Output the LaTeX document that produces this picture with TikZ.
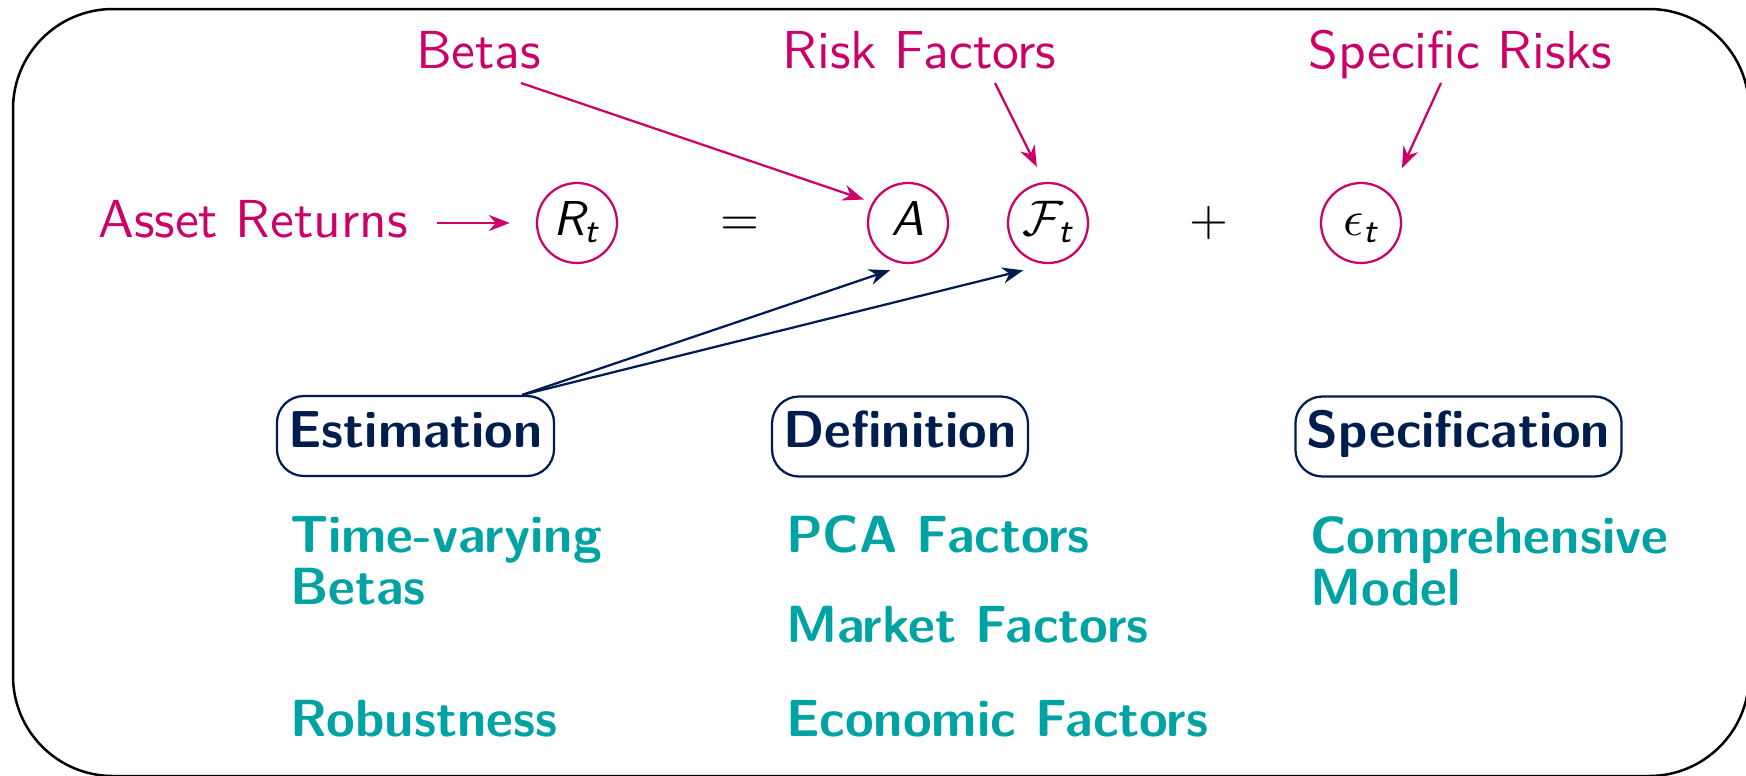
\documentclass[tikz,border=0pt]{standalone}
\usepackage{amsmath}
\usepackage{fontspec}
\usetikzlibrary{arrows.meta,calc}

\definecolor{riskpink}{RGB}{204,0,102}
\definecolor{boxnavy}{RGB}{0,30,77}
\definecolor{itemteal}{RGB}{0,163,163}

\newcommand{\sfit}[1]{\text{\sffamily\itshape #1}}

\begin{document}
\begin{tikzpicture}[x=0.2pt,y=0.2pt,yscale=-1,xscale=1,
  riskname/.style={text=riskpink,inner sep=0pt,anchor=base,font=\sffamily\fontsize{10.7}{13}\selectfont},
  factor/.style={circle,draw=riskpink,line width=0.45pt,minimum size=16pt,inner sep=0pt,text height=6.6pt,text depth=1.8pt,font=\fontsize{9.8}{11}\selectfont},
  sign/.style={inner sep=0pt,anchor=base,font=\fontsize{9.8}{11}\selectfont},
  stepname/.style={draw=boxnavy,line width=0.45pt,rounded corners=5.4pt,text=boxnavy,inner xsep=2.3pt,inner ysep=2.4pt,text height=7.8pt,text depth=3.4pt,font=\sffamily\bfseries\fontsize{10.4}{12}\selectfont},
  itemtext/.style={text=itemteal,inner sep=0pt,anchor=base west,align=left,font=\sffamily\bfseries\fontsize{10.45}{10.4}\selectfont},
  pinkarrow/.style={draw=riskpink,line width=0.45pt,-{Stealth[length=4.2pt,width=3.2pt]}},
  navyarrow/.style={draw=boxnavy,line width=0.45pt,-{Stealth[length=4.2pt,width=3.2pt]}}
]
\useasboundingbox (0,0) rectangle (1746,775);

%Shape: Rounded Rect
\draw [line width=0.5pt,rounded corners=20pt] (13,9) rectangle (1749,776) ;

%Text: names of the parts
\node [riskname] (betas) at (478.5,68) {Betas};
\node [riskname] (riskf) at (919.5,68) {Risk Factors};
\node [riskname] (specific) at (1460.5,68) {Specific Risks};
\node [riskname] (asset) at (253,237) {Asset Returns};

%Shape: Circles of the model
\node [factor] (Rt) at (577,223) {$\sfit{R}_{\sfit{t}}$};
\node [sign] (eq) at (740,235) {$=$};
\node [factor] (A) at (908,223) {$\sfit{A}$};
\node [factor] (Ft) at (1048,223) {$\mathcal{F}_{\sfit{t}}$};
\node [sign] (plus) at (1209,235) {$+$};
\node [factor] (eps) at (1361,223) {$\epsilon_{\sfit{t}}$};

%Shape: Rounded Rects of the steps
\node [stepname] (est) at (415.5,436) {Estimation};
\node [stepname] (def) at (900,436.5) {Definition};
\node [stepname] (spec) at (1458.5,436.5) {Specification};

%Text: items (base is the last line)
\node [itemtext] (tvb) at (289,604) {Time-varying\\Betas};
\node [itemtext] (rob) at (289,736) {Robustness};
\node [itemtext] (pca) at (785,552) {PCA Factors};
\node [itemtext] (mkt) at (785,642) {Market Factors};
\node [itemtext] (eco) at (785,736) {Economic Factors};
\node [itemtext] (comp) at (1309,605) {Comprehensive\\Model};

%Straight Lines: pink arrows
\draw [pinkarrow,shorten <=5.6pt,shorten >=5.2pt] (asset.east |- Rt) -- (Rt.west) ;
\coordinate (betas tail) at ($(betas.base)+(42.5,15)$);
\draw [pinkarrow,shorten >=1.8pt] (betas tail) -- (A.150) ;
\coordinate (riskf tail) at ($(riskf.base)+(75.5,15)$);
\draw [pinkarrow,shorten >=3.4pt] (riskf tail) -- (Ft.95) ;
\coordinate (specific tail) at ($(specific.base)+(-19.5,15)$);
\draw [pinkarrow,shorten >=5.7pt] (specific tail) -- (eps.45) ;

%Straight Lines: navy arrows
\coordinate (est top) at ($(est.north east)+(-33,0)$);
\draw [navyarrow,shorten >=3.8pt] (est top) -- (A.south) ;
\draw [navyarrow,shorten >=5.1pt] (est top) -- (Ft.south) ;

\end{tikzpicture}
\end{document}
